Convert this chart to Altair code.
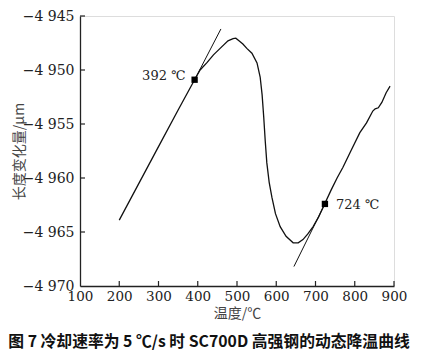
import altair as alt
import pandas as pd

# main cooling curve (temperature °C, length change μm)
temps = [200, 250, 300, 350, 392, 406, 424, 440, 457, 477, 490, 497, 505, 515, 525, 538, 551, 559, 564, 568,
         572, 576, 582, 589, 598, 610, 625, 643, 656, 668, 680, 694, 708, 722, 740, 755, 770, 790, 813, 830,
         846, 852, 860, 869, 880, 890]
vals = [-4963.9, -4960.5, -4957.1, -4953.7, -4950.9, -4950.0, -4949.3, -4948.6, -4948.0, -4947.3, -4947.1, -4947.05,
        -4947.3, -4947.6, -4948.0, -4948.45, -4949.35, -4950.65, -4952.3, -4954.3, -4956.6, -4958.6, -4960.4,
        -4961.8, -4963.3, -4964.5, -4965.4, -4966.0, -4966.0, -4965.7, -4965.2, -4964.5, -4963.6, -4962.5,
        -4961.1, -4960.0, -4959.0, -4957.5, -4955.8, -4954.9, -4953.8, -4953.6, -4953.5, -4953.0, -4952.1, -4951.5]

# tangent lines
tan1_t = [392, 459]
tan1_v = [-4950.9, -4946.2]
tan2_t = [645, 724]
tan2_v = [-4968.2, -4962.4]

# marked transformation points
pt_t = [392, 724]
pt_v = [-4950.9, -4962.4]
pt_lab = ["392 ℃", "724 ℃"]

x_ticks = [100, 200, 300, 400, 500, 600, 700, 800, 900]
y_ticks = [-4970, -4965, -4960, -4955, -4950, -4945]

caption = "图 7    冷却速率为 5 ℃/s 时 SC700D 高强钢的动态降温曲线"

SERIF = "DejaVu Serif"
CJK = "Noto Sans CJK SC"

curve = pd.DataFrame({"t": temps, "v": vals, "o": range(len(temps))})
tangents = pd.DataFrame({
    "t": tan1_t + tan2_t,
    "v": tan1_v + tan2_v,
    "g": ["a", "a", "b", "b"],
})
pts = pd.DataFrame({"t": pt_t, "v": pt_v, "lab": pt_lab})
xt = pd.DataFrame({"t": x_ticks[1:]})
yt = pd.DataFrame({"v": y_ticks[1:]})

xscale = alt.Scale(domain=[100, 900], nice=False)
yscale = alt.Scale(domain=[-4970, -4945], nice=False)

xax = alt.Axis(values=x_ticks, ticks=False, grid=False, labelFont=SERIF, labelFontSize=13.5,
               labelColor="#222", labelPadding=3, labelOverlap=False, labelFlush=False,
               domainColor="#222", domainWidth=1.3,
               title="温度/℃", titleFont=CJK, titleFontSize=14,
               titleFontWeight="normal", titleColor="#444", titlePadding=4)
yax = alt.Axis(values=y_ticks, ticks=False, grid=False, labelFont=SERIF, labelFontSize=14,
               labelColor="#222", labelPadding=6, labelOverlap=False, labelFlush=False,
               domainColor="#222", domainWidth=1.3,
               labelExpr="'−' + replace(format(-datum.value, ','), ',', ' ')",
               title="长度变化量/μm", titleFont=CJK, titleFontSize=14,
               titleFontWeight="normal", titleColor="#444",
               titleX=-61, titleY=135, titleAngle=270, titleAlign="center", titleBaseline="middle")

X = alt.X("t:Q", scale=xscale, axis=xax)
Y = alt.Y("v:Q", scale=yscale, axis=yax)

base_line = alt.Chart(curve).mark_line(color="#111", strokeWidth=1.3).encode(
    x=X, y=Y, order="o:Q",
)

tan_lines = alt.Chart(tangents).mark_line(color="#111", strokeWidth=1.0).encode(
    x=X, y=Y, detail="g:N",
)

squares = alt.Chart(pts).mark_square(color="#000", size=40, opacity=1).encode(x=X, y=Y)

lab1 = alt.Chart(pts.iloc[[0]]).mark_text(font=SERIF, fontSize=13, align="right", baseline="middle",
                                           dx=-9, dy=-4, color="#222").encode(x=X, y=Y, text="lab:N")
lab2 = alt.Chart(pts.iloc[[1]]).mark_text(font=SERIF, fontSize=13, align="left", baseline="middle",
                                           dx=11, dy=1, color="#222").encode(x=X, y=Y, text="lab:N")

xticks_m = alt.Chart(xt).mark_rule(color="#222", strokeWidth=1.2).encode(
    x=X, y=alt.value(270), y2=alt.value(265))
yticks_m = alt.Chart(yt).mark_rule(color="#222", strokeWidth=1.2).encode(
    y=Y, x=alt.value(0), x2=alt.value(5))

chart = alt.layer(base_line, tan_lines, squares, lab1, lab2, xticks_m, yticks_m).properties(
    width=314, height=270,
    autosize=alt.AutoSizeParams(type="none"),
    padding={"left": 72, "top": 8, "right": 27, "bottom": 70},
    title=alt.TitleParams(caption, orient="bottom", anchor="middle", frame="group",
                          font=CJK, fontSize=15.8, fontWeight="bold",
                          color="#111", dx=-28, offset=14),
).configure_view(stroke=None).configure(background="white")

chart.save("out.html", embed_options={"renderer": "svg", "actions": False})
